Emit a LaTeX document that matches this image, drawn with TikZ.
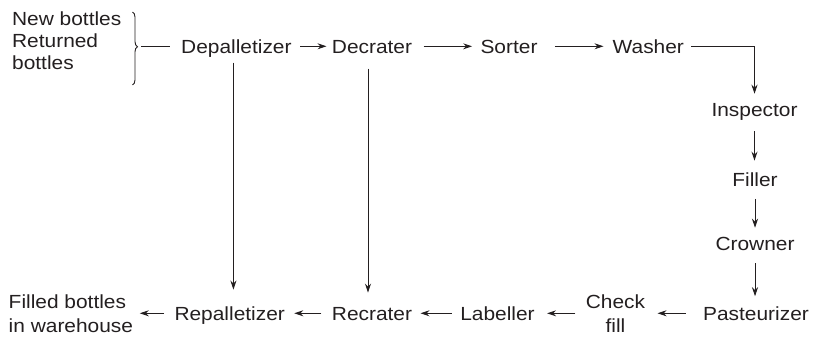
\documentclass[tikz,border=0pt]{standalone}
\usepackage{fontspec}
\setmainfont{Liberation Sans}[FakeStretch=1.1]
\usetikzlibrary{arrows.meta,decorations.pathreplacing}
\definecolor{ink}{RGB}{35,31,32}
\begin{document}
\begin{tikzpicture}[x=1pt,y=-1pt,line width=0.9pt,draw=ink,
  every node/.style={font=\fontsize{19}{23}\selectfont,text=ink},
  lbl/.style={inner sep=0pt,text height=13.6pt,text depth=0pt},
  mlbl/.style={inner sep=0pt},
  arr/.style={-{Stealth[length=9pt,width=6pt,inset=3pt]}}]
\useasboundingbox (0,0) rectangle (814,337);
% nodes
\node[mlbl,align=left,anchor=west,font=\fontsize{19}{22}\selectfont] (src) at (11.7,40.3) {New bottles\\Returned\\bottles};
\node[lbl] (dep) at (236.4,46.3) {Depalletizer};
\node[lbl] (dec) at (372,46.3) {Decrater};
\node[lbl] (sor) at (509,46.3) {Sorter};
\node[lbl] (was) at (648.3,46.3) {Washer};
\node[lbl] (ins) at (754.5,110) {Inspector};
\node[lbl] (fil) at (755,179.5) {Filler};
\node[lbl] (cro) at (755,244) {Crowner};
\node[lbl] (pas) at (756,313.3) {Pasteurizer};
\node[mlbl,align=center,font=\fontsize{19}{24}\selectfont] (chk) at (615.5,313.3) {Check\\fill};
\node[lbl] (lab) at (497.5,313.3) {Labeller};
\node[lbl] (rec) at (372,313.3) {Recrater};
\node[lbl] (rep) at (229.7,313.3) {Repalletizer};
\node[mlbl,align=left,anchor=west,font=\fontsize{19}{24}\selectfont] (fb) at (8.3,313.3) {Filled bottles\\in warehouse};
% brace
\draw[decorate,decoration={brace,amplitude=5pt,aspect=0.475}] (132.5,12) -- (132.5,85);
\coordinate (btip) at (138,46.5);
\draw[shorten <=3pt,shorten >=10.7pt] (btip) -- (btip -| dep.west);
% top row
\draw[arr,shorten <=8pt,shorten >=5pt] (dep.east) -- (dec.west);
\draw[arr,shorten <=11pt,shorten >=8pt] (dec.east) -- (sor.west);
\draw[arr,shorten <=17pt,shorten >=8.7pt] (sor.east) -- (was.west);
\draw[arr,shorten <=7pt,shorten >=9pt] (was.east) -| (ins.north);
% right column
\draw[arr,shorten <=14pt,shorten >=11.7pt] (ins.south) -- (ins.south |- fil.north);
\draw[arr,shorten <=12pt,shorten >=9pt] (fil.south) -- (fil.south |- cro.north);
\draw[arr,shorten <=12pt,shorten >=9.8pt] (cro.south) -- (cro.south |- pas.north);
% bottom row
\draw[arr,shorten <=17pt,shorten >=12pt] (pas.west) -- (pas.west -| chk.east);
\draw[arr,shorten <=10pt,shorten >=12pt] (chk.west |- lab.east) -- (lab.east);
\draw[arr,shorten <=8pt,shorten >=8pt] (lab.west) -- (rec.east);
\draw[arr,shorten <=10pt,shorten >=9pt] (rec.west) -- (rep.east);
\draw[arr,shorten <=10pt,shorten >=6.3pt] (rep.west) -- (rep.west -| fb.east);
% vertical returns
\draw[arr,shorten <=9pt,shorten >=16.5pt] ([xshift=-3pt]dep.south) -- ([xshift=-3pt]dep.south |- rep.north);
\draw[arr,shorten <=15pt,shorten >=13.5pt] ([xshift=-4pt]dec.south) -- ([xshift=-4pt]dec.south |- rec.north);
\end{tikzpicture}
\end{document}
